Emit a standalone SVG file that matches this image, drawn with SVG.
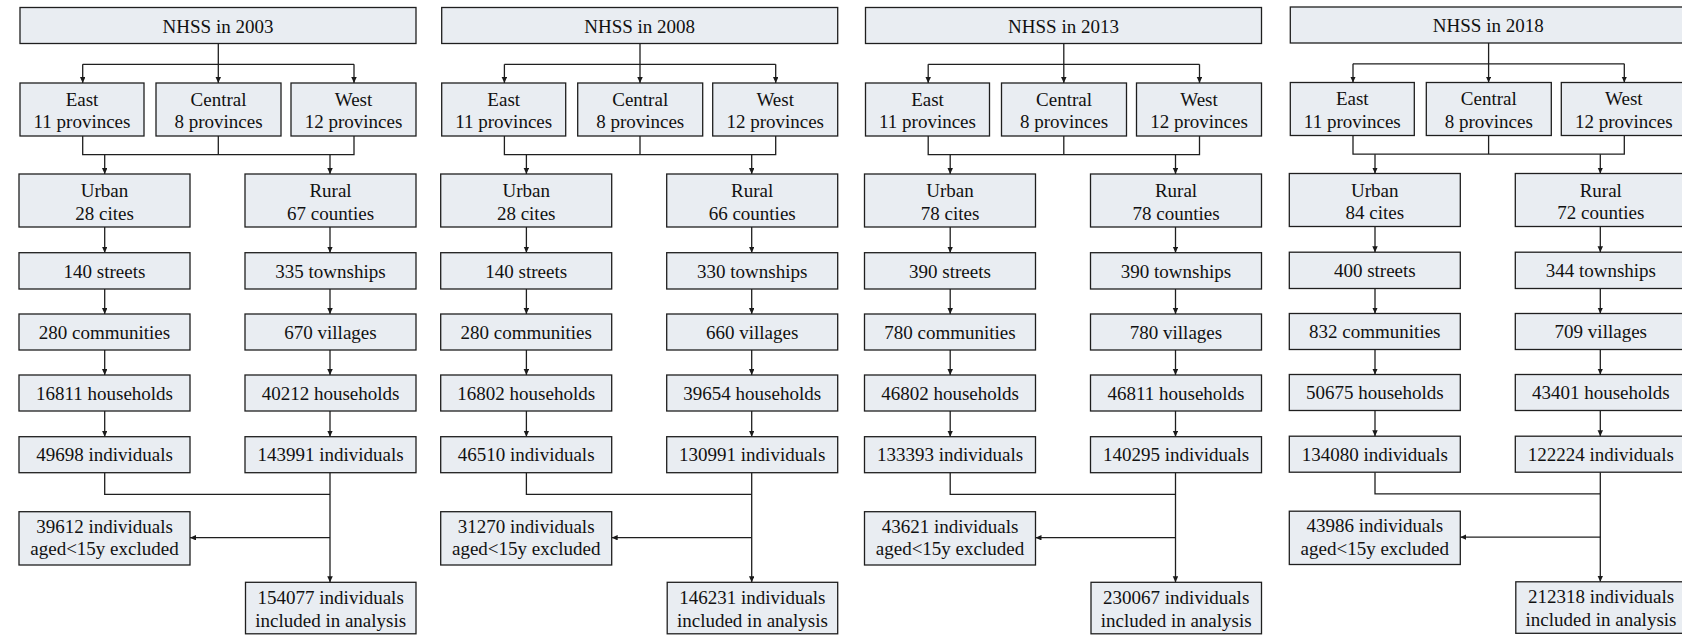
<svg xmlns="http://www.w3.org/2000/svg" width="1682" height="635" viewBox="0 0 1682 635">
<defs>
<marker id="arr" markerUnits="userSpaceOnUse" markerWidth="6" markerHeight="6" refX="6" refY="2.75" orient="auto">
<path d="M0,0 L6,2.75 L0,5.5 z" fill="#1a1a1a"/>
</marker>
<style>
.box{fill:#e9edf2;stroke:#1f1f1f;stroke-width:1.3}
.t{font-family:'Liberation Serif',serif;font-size:19px;fill:#111;text-anchor:middle}
.c{fill:none;stroke:#1f1f1f;stroke-width:1.3}
.a{marker-end:url(#arr)}
</style>
</defs>
<rect width="1682" height="635" fill="#ffffff"/>

<!-- ===== Panel 2003 ===== -->
<g id="panel-2003">
<g id="p2003-connectors">
<path class="c" d="M218.3,43.5 V64.3 M82.7,64.3 H354"/>
<path class="c a" d="M82.7,64.3 V83"/><path class="c a" d="M218.3,64.3 V83"/><path class="c a" d="M354,64.3 V83"/>
<path class="c" d="M82.7,136 V154.7 H354 V136 M218.3,136 V154.7"/>
<path class="c a" d="M104.7,154.7 V174"/><path class="c a" d="M330,154.7 V174"/>
<path class="c a" d="M104.7,227 V252.7"/><path class="c a" d="M104.7,289 V314"/><path class="c a" d="M104.7,350 V375"/><path class="c a" d="M104.7,411 V436.7"/>
<path class="c a" d="M330,227 V252.7"/><path class="c a" d="M330,289 V314"/><path class="c a" d="M330,350 V375"/><path class="c a" d="M330,411 V436.7"/>
<path class="c" d="M104.7,472.7 V494.3 H330"/>
<path class="c a" d="M330,472.7 V582.3"/>
<path class="c a" d="M330,537.7 H190"/>
</g>
<g id="p2003-nhss"><rect class="box" x="20" y="7.5" width="396" height="36"/><text class="t" font-family="Liberation Serif, serif" x="218" y="32.5">NHSS in 2003</text></g>
<g id="p2003-east"><rect class="box" x="20" y="83" width="124" height="53"/><text class="t" x="82" y="105.5">East</text><text class="t" x="82" y="128.3">11 provinces</text></g>
<g id="p2003-central"><rect class="box" x="156" y="83" width="125" height="53"/><text class="t" x="218.5" y="105.5">Central</text><text class="t" x="218.5" y="128.3">8 provinces</text></g>
<g id="p2003-west"><rect class="box" x="291" y="83" width="125" height="53"/><text class="t" x="353.5" y="105.5">West</text><text class="t" x="353.5" y="128.3">12 provinces</text></g>
<g id="p2003-urban"><rect class="box" x="19" y="174" width="171" height="53"/><text class="t" x="104.5" y="197.3">Urban</text><text class="t" x="104.5" y="219.5">28 cites</text></g>
<g id="p2003-rural"><rect class="box" x="245" y="174" width="171" height="53"/><text class="t" x="330.5" y="197.3">Rural</text><text class="t" x="330.5" y="219.5">67 counties</text></g>
<g id="p2003-streets"><rect class="box" x="19" y="252.7" width="171" height="36.3"/><text class="t" x="104.5" y="277.5">140 streets</text></g>
<g id="p2003-townships"><rect class="box" x="245" y="252.7" width="171" height="36.3"/><text class="t" x="330.5" y="277.5">335 townships</text></g>
<g id="p2003-communities"><rect class="box" x="19" y="314" width="171" height="36"/><text class="t" x="104.5" y="338.5">280 communities</text></g>
<g id="p2003-villages"><rect class="box" x="245" y="314" width="171" height="36"/><text class="t" x="330.5" y="338.5">670 villages</text></g>
<g id="p2003-uhh"><rect class="box" x="19" y="375" width="171" height="36"/><text class="t" x="104.5" y="399.5">16811 households</text></g>
<g id="p2003-rhh"><rect class="box" x="245" y="375" width="171" height="36"/><text class="t" x="330.5" y="399.5">40212 households</text></g>
<g id="p2003-uind"><rect class="box" x="19" y="436.7" width="171" height="36"/><text class="t" x="104.5" y="461">49698 individuals</text></g>
<g id="p2003-rind"><rect class="box" x="245" y="436.7" width="171" height="36"/><text class="t" x="330.5" y="461">143991 individuals</text></g>
<g id="p2003-excl"><rect class="box" x="19" y="511.7" width="171" height="53.3"/><text class="t" x="104.5" y="532.7">39612 individuals</text><text class="t" x="104.5" y="555">aged&lt;15y excluded</text></g>
<g id="p2003-incl"><rect class="box" x="245.5" y="582.3" width="170.5" height="51.5"/><text class="t" x="330.7" y="603.5">154077 individuals</text><text class="t" x="330.7" y="626.5">included in analysis</text></g>
</g>

<!-- ===== Panel 2008 ===== -->
<g id="panel-2008" transform="translate(421.7,0)">
<g id="p2008-connectors">
<path class="c" d="M218.3,43.5 V64.3 M82.7,64.3 H354"/>
<path class="c a" d="M82.7,64.3 V83"/><path class="c a" d="M218.3,64.3 V83"/><path class="c a" d="M354,64.3 V83"/>
<path class="c" d="M82.7,136 V154.7 H354 V136 M218.3,136 V154.7"/>
<path class="c a" d="M104.7,154.7 V174"/><path class="c a" d="M330,154.7 V174"/>
<path class="c a" d="M104.7,227 V252.7"/><path class="c a" d="M104.7,289 V314"/><path class="c a" d="M104.7,350 V375"/><path class="c a" d="M104.7,411 V436.7"/>
<path class="c a" d="M330,227 V252.7"/><path class="c a" d="M330,289 V314"/><path class="c a" d="M330,350 V375"/><path class="c a" d="M330,411 V436.7"/>
<path class="c" d="M104.7,472.7 V494.3 H330"/>
<path class="c a" d="M330,472.7 V582.3"/>
<path class="c a" d="M330,537.7 H190"/>
</g>
<g id="p2008-nhss"><rect class="box" x="20" y="7.5" width="396" height="36"/><text class="t" x="218" y="32.5">NHSS in 2008</text></g>
<g id="p2008-east"><rect class="box" x="20" y="83" width="124" height="53"/><text class="t" x="82" y="105.5">East</text><text class="t" x="82" y="128.3">11 provinces</text></g>
<g id="p2008-central"><rect class="box" x="156" y="83" width="125" height="53"/><text class="t" x="218.5" y="105.5">Central</text><text class="t" x="218.5" y="128.3">8 provinces</text></g>
<g id="p2008-west"><rect class="box" x="291" y="83" width="125" height="53"/><text class="t" x="353.5" y="105.5">West</text><text class="t" x="353.5" y="128.3">12 provinces</text></g>
<g id="p2008-urban"><rect class="box" x="19" y="174" width="171" height="53"/><text class="t" x="104.5" y="197.3">Urban</text><text class="t" x="104.5" y="219.5">28 cites</text></g>
<g id="p2008-rural"><rect class="box" x="245" y="174" width="171" height="53"/><text class="t" x="330.5" y="197.3">Rural</text><text class="t" x="330.5" y="219.5">66 counties</text></g>
<g id="p2008-streets"><rect class="box" x="19" y="252.7" width="171" height="36.3"/><text class="t" x="104.5" y="277.5">140 streets</text></g>
<g id="p2008-townships"><rect class="box" x="245" y="252.7" width="171" height="36.3"/><text class="t" x="330.5" y="277.5">330 townships</text></g>
<g id="p2008-communities"><rect class="box" x="19" y="314" width="171" height="36"/><text class="t" x="104.5" y="338.5">280 communities</text></g>
<g id="p2008-villages"><rect class="box" x="245" y="314" width="171" height="36"/><text class="t" x="330.5" y="338.5">660 villages</text></g>
<g id="p2008-uhh"><rect class="box" x="19" y="375" width="171" height="36"/><text class="t" x="104.5" y="399.5">16802 households</text></g>
<g id="p2008-rhh"><rect class="box" x="245" y="375" width="171" height="36"/><text class="t" x="330.5" y="399.5">39654 households</text></g>
<g id="p2008-uind"><rect class="box" x="19" y="436.7" width="171" height="36"/><text class="t" x="104.5" y="461">46510 individuals</text></g>
<g id="p2008-rind"><rect class="box" x="245" y="436.7" width="171" height="36"/><text class="t" x="330.5" y="461">130991 individuals</text></g>
<g id="p2008-excl"><rect class="box" x="19" y="511.7" width="171" height="53.3"/><text class="t" x="104.5" y="532.7">31270 individuals</text><text class="t" x="104.5" y="555">aged&lt;15y excluded</text></g>
<g id="p2008-incl"><rect class="box" x="245.5" y="582.3" width="170.5" height="51.5"/><text class="t" x="330.7" y="603.5">146231 individuals</text><text class="t" x="330.7" y="626.5">included in analysis</text></g>
</g>

<!-- ===== Panel 2013 ===== -->
<g id="panel-2013" transform="translate(845.5,0)">
<g id="p2013-connectors">
<path class="c" d="M218.3,43.5 V64.3 M82.7,64.3 H354"/>
<path class="c a" d="M82.7,64.3 V83"/><path class="c a" d="M218.3,64.3 V83"/><path class="c a" d="M354,64.3 V83"/>
<path class="c" d="M82.7,136 V154.7 H354 V136 M218.3,136 V154.7"/>
<path class="c a" d="M104.7,154.7 V174"/><path class="c a" d="M330,154.7 V174"/>
<path class="c a" d="M104.7,227 V252.7"/><path class="c a" d="M104.7,289 V314"/><path class="c a" d="M104.7,350 V375"/><path class="c a" d="M104.7,411 V436.7"/>
<path class="c a" d="M330,227 V252.7"/><path class="c a" d="M330,289 V314"/><path class="c a" d="M330,350 V375"/><path class="c a" d="M330,411 V436.7"/>
<path class="c" d="M104.7,472.7 V494.3 H330"/>
<path class="c a" d="M330,472.7 V582.3"/>
<path class="c a" d="M330,537.7 H190"/>
</g>
<g id="p2013-nhss"><rect class="box" x="20" y="7.5" width="396" height="36"/><text class="t" x="218" y="32.5">NHSS in 2013</text></g>
<g id="p2013-east"><rect class="box" x="20" y="83" width="124" height="53"/><text class="t" x="82" y="105.5">East</text><text class="t" x="82" y="128.3">11 provinces</text></g>
<g id="p2013-central"><rect class="box" x="156" y="83" width="125" height="53"/><text class="t" x="218.5" y="105.5">Central</text><text class="t" x="218.5" y="128.3">8 provinces</text></g>
<g id="p2013-west"><rect class="box" x="291" y="83" width="125" height="53"/><text class="t" x="353.5" y="105.5">West</text><text class="t" x="353.5" y="128.3">12 provinces</text></g>
<g id="p2013-urban"><rect class="box" x="19" y="174" width="171" height="53"/><text class="t" x="104.5" y="197.3">Urban</text><text class="t" x="104.5" y="219.5">78 cites</text></g>
<g id="p2013-rural"><rect class="box" x="245" y="174" width="171" height="53"/><text class="t" x="330.5" y="197.3">Rural</text><text class="t" x="330.5" y="219.5">78 counties</text></g>
<g id="p2013-streets"><rect class="box" x="19" y="252.7" width="171" height="36.3"/><text class="t" x="104.5" y="277.5">390 streets</text></g>
<g id="p2013-townships"><rect class="box" x="245" y="252.7" width="171" height="36.3"/><text class="t" x="330.5" y="277.5">390 townships</text></g>
<g id="p2013-communities"><rect class="box" x="19" y="314" width="171" height="36"/><text class="t" x="104.5" y="338.5">780 communities</text></g>
<g id="p2013-villages"><rect class="box" x="245" y="314" width="171" height="36"/><text class="t" x="330.5" y="338.5">780 villages</text></g>
<g id="p2013-uhh"><rect class="box" x="19" y="375" width="171" height="36"/><text class="t" x="104.5" y="399.5">46802 households</text></g>
<g id="p2013-rhh"><rect class="box" x="245" y="375" width="171" height="36"/><text class="t" x="330.5" y="399.5">46811 households</text></g>
<g id="p2013-uind"><rect class="box" x="19" y="436.7" width="171" height="36"/><text class="t" x="104.5" y="461">133393 individuals</text></g>
<g id="p2013-rind"><rect class="box" x="245" y="436.7" width="171" height="36"/><text class="t" x="330.5" y="461">140295 individuals</text></g>
<g id="p2013-excl"><rect class="box" x="19" y="511.7" width="171" height="53.3"/><text class="t" x="104.5" y="532.7">43621 individuals</text><text class="t" x="104.5" y="555">aged&lt;15y excluded</text></g>
<g id="p2013-incl"><rect class="box" x="245.5" y="582.3" width="170.5" height="51.5"/><text class="t" x="330.7" y="603.5">230067 individuals</text><text class="t" x="330.7" y="626.5">included in analysis</text></g>
</g>

<!-- ===== Panel 2018 ===== -->
<g id="panel-2018" transform="translate(1270.3,-0.5)">
<g id="p2018-connectors">
<path class="c" d="M218.3,43.5 V64.3 M82.7,64.3 H354"/>
<path class="c a" d="M82.7,64.3 V83"/><path class="c a" d="M218.3,64.3 V83"/><path class="c a" d="M354,64.3 V83"/>
<path class="c" d="M82.7,136 V154.7 H354 V136 M218.3,136 V154.7"/>
<path class="c a" d="M104.7,154.7 V174"/><path class="c a" d="M330,154.7 V174"/>
<path class="c a" d="M104.7,227 V252.7"/><path class="c a" d="M104.7,289 V314"/><path class="c a" d="M104.7,350 V375"/><path class="c a" d="M104.7,411 V436.7"/>
<path class="c a" d="M330,227 V252.7"/><path class="c a" d="M330,289 V314"/><path class="c a" d="M330,350 V375"/><path class="c a" d="M330,411 V436.7"/>
<path class="c" d="M104.7,472.7 V494.3 H330"/>
<path class="c a" d="M330,472.7 V582.3"/>
<path class="c a" d="M330,537.7 H190"/>
</g>
<g id="p2018-nhss"><rect class="box" x="20" y="7.5" width="396" height="36"/><text class="t" x="218" y="32.5">NHSS in 2018</text></g>
<g id="p2018-east"><rect class="box" x="20" y="83" width="124" height="53"/><text class="t" x="82" y="105.5">East</text><text class="t" x="82" y="128.3">11 provinces</text></g>
<g id="p2018-central"><rect class="box" x="156" y="83" width="125" height="53"/><text class="t" x="218.5" y="105.5">Central</text><text class="t" x="218.5" y="128.3">8 provinces</text></g>
<g id="p2018-west"><rect class="box" x="291" y="83" width="125" height="53"/><text class="t" x="353.5" y="105.5">West</text><text class="t" x="353.5" y="128.3">12 provinces</text></g>
<g id="p2018-urban"><rect class="box" x="19" y="174" width="171" height="53"/><text class="t" x="104.5" y="197.3">Urban</text><text class="t" x="104.5" y="219.5">84 cites</text></g>
<g id="p2018-rural"><rect class="box" x="245" y="174" width="171" height="53"/><text class="t" x="330.5" y="197.3">Rural</text><text class="t" x="330.5" y="219.5">72 counties</text></g>
<g id="p2018-streets"><rect class="box" x="19" y="252.7" width="171" height="36.3"/><text class="t" x="104.5" y="277.5">400 streets</text></g>
<g id="p2018-townships"><rect class="box" x="245" y="252.7" width="171" height="36.3"/><text class="t" x="330.5" y="277.5">344 townships</text></g>
<g id="p2018-communities"><rect class="box" x="19" y="314" width="171" height="36"/><text class="t" x="104.5" y="338.5">832 communities</text></g>
<g id="p2018-villages"><rect class="box" x="245" y="314" width="171" height="36"/><text class="t" x="330.5" y="338.5">709 villages</text></g>
<g id="p2018-uhh"><rect class="box" x="19" y="375" width="171" height="36"/><text class="t" x="104.5" y="399.5">50675 households</text></g>
<g id="p2018-rhh"><rect class="box" x="245" y="375" width="171" height="36"/><text class="t" x="330.5" y="399.5">43401 households</text></g>
<g id="p2018-uind"><rect class="box" x="19" y="436.7" width="171" height="36"/><text class="t" x="104.5" y="461">134080 individuals</text></g>
<g id="p2018-rind"><rect class="box" x="245" y="436.7" width="171" height="36"/><text class="t" x="330.5" y="461">122224 individuals</text></g>
<g id="p2018-excl"><rect class="box" x="19" y="511.7" width="171" height="53.3"/><text class="t" x="104.5" y="532.7">43986 individuals</text><text class="t" x="104.5" y="555">aged&lt;15y excluded</text></g>
<g id="p2018-incl"><rect class="box" x="245.5" y="582.3" width="170.5" height="51.5"/><text class="t" x="330.7" y="603.5">212318 individuals</text><text class="t" x="330.7" y="626.5">included in analysis</text></g>
</g>
</svg>
